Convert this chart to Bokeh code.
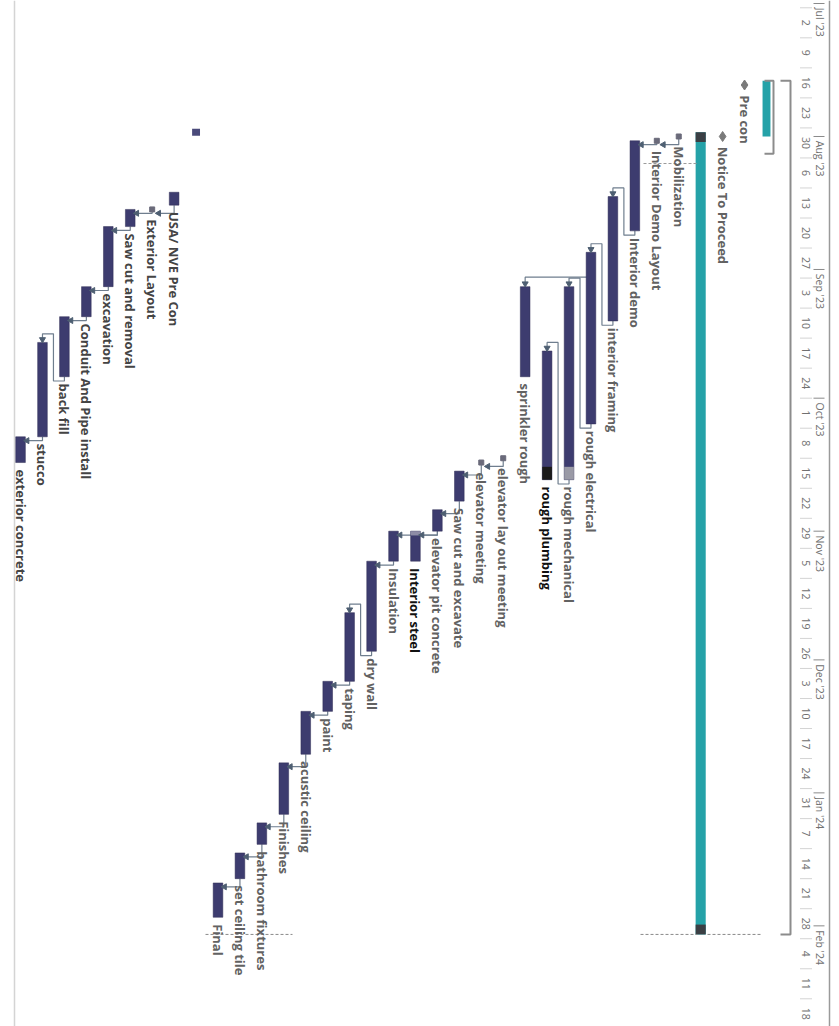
import math
from datetime import datetime, timedelta
from bokeh.plotting import figure
from bokeh.models import Range1d
from bokeh.core.properties import value
from bokeh.embed import file_html
from bokeh.resources import INLINE

# ---------------- data ----------------
bar_rows = [7, 8, 9, 10, 11, 12, 15, 16, 17, 18, 19, 20, 21, 22, 23, 24, 25, 26,
            28, 30, 31, 32, 33, 34, 35]
bar_names = ["Interior demo", "interior framing", "rough electrical", "rough mechanical",
             "rough plumbing", "sprinkler rough", "Saw cut and excavate", "elevator pit concrete",
             "Interior steel", "Insulation", "dry wall", "taping", "paint", "acustic ceiling",
             "Finishes", "bathroom fixtures", "set ceiling tile", "Final",
             "USA/ NVE Pre Con", "Saw cut and removal", "excavation", "Conduit And Pipe install",
             "back fill", "stucco", "exterior concrete"]
bar_starts = ["2023-08-02", "2023-08-15", "2023-08-28", "2023-09-05", "2023-09-20", "2023-09-05",
              "2023-10-18", "2023-10-27", "2023-11-01", "2023-11-01", "2023-11-08", "2023-11-20",
              "2023-12-06", "2023-12-13", "2023-12-25", "2024-01-08", "2024-01-15", "2024-01-22",
              "2023-08-14", "2023-08-18", "2023-08-22", "2023-09-05", "2023-09-12", "2023-09-18",
              "2023-10-10"]
bar_finishes = ["2023-08-23", "2023-09-13", "2023-10-07", "2023-10-20", "2023-10-20", "2023-09-26",
                "2023-10-25", "2023-11-01", "2023-11-08", "2023-11-08", "2023-11-29", "2023-12-06",
                "2023-12-13", "2023-12-23", "2024-01-06", "2024-01-13", "2024-01-21", "2024-01-30",
                "2023-08-17", "2023-08-22", "2023-09-05", "2023-09-12", "2023-09-26", "2023-10-10",
                "2023-10-16"]

# last part of some bars drawn in another shade
tail_rows = [10, 11]
tail_starts = ["2023-10-17", "2023-10-17"]
head_rows = [17]
head_finishes = ["2023-11-02"]

milestone_rows = [2, 3]
milestone_names = ["Pre con", "Notice To Proceed"]
milestone_dates = ["2023-07-20", "2023-08-01"]

marker_rows = [5, 6, 13, 14, 29]
marker_names = ["Mobilization", "Interior Demo Layout", "elevator lay out meeting",
                "elevator meeting", "Exterior Layout"]
marker_dates = ["2023-08-01", "2023-08-02", "2023-10-15", "2023-10-16", "2023-08-18"]

summary_rows = [1, 4]
summary_starts = ["2023-07-19", "2023-07-31"]
summary_finishes = ["2023-08-01", "2024-02-03"]

project_row = 0
project_start = "2023-07-19"
project_finish = "2024-02-03"
precon_bracket_start = "2023-07-19"
precon_bracket_finish = "2023-08-05"
blank_row = 27
blank_row_date = "2023-07-31"

links_fs = [(5, 6), (6, 7), (7, 8), (8, 9), (9, 10), (10, 11), (13, 14), (14, 15), (15, 16),
            (16, 17), (16, 18), (18, 19), (19, 20), (20, 21), (21, 22), (22, 23), (23, 24),
            (24, 25), (25, 26), (28, 29), (29, 30), (30, 31), (31, 32), (32, 33), (33, 34),
            (34, 35)]
links_ss = [(9, 12)]

month_labels = ["Jul '23", "Aug '23", "Sep '23", "Oct '23", "Nov '23", "Dec '23", "Jan '24", "Feb '24"]
month_starts = ["2023-07-01", "2023-08-01", "2023-09-01", "2023-10-01", "2023-11-01",
                "2023-12-01", "2024-01-01", "2024-02-01"]
week_labels = ["2", "9", "16", "23", "30", "6", "13", "20", "27", "3", "10", "17", "24",
               "1", "8", "15", "22", "29", "5", "12", "19", "26", "3", "10", "17", "24", "31",
               "7", "14", "21", "28", "4", "11", "18"]
week_starts = ["2023-07-02", "2023-07-09", "2023-07-16", "2023-07-23", "2023-07-30",
               "2023-08-06", "2023-08-13", "2023-08-20", "2023-08-27", "2023-09-03",
               "2023-09-10", "2023-09-17", "2023-09-24", "2023-10-01", "2023-10-08",
               "2023-10-15", "2023-10-22", "2023-10-29", "2023-11-05", "2023-11-12",
               "2023-11-19", "2023-11-26", "2023-12-03", "2023-12-10", "2023-12-17",
               "2023-12-24", "2023-12-31", "2024-01-07", "2024-01-14", "2024-01-21",
               "2024-01-28", "2024-02-04", "2024-02-11", "2024-02-18"]

# ---------------- helpers ----------------
def D(s):
    return datetime.fromisoformat(s)

day = timedelta(days=1)
ROW0_PX, ROW_PX = 766.0, 21.94


def col(px):
    # pixel column -> row coordinate
    return 1 + (ROW0_PX - px) / ROW_PX


origin = datetime(2023, 7, 1)
top_dt = origin - timedelta(days=0.7)
bot_dt = origin + timedelta(days=238.46)

p = figure(width=839, height=1026, output_backend="svg", toolbar_location=None,
           x_range=Range1d(col(0), col(839)), y_range=Range1d(bot_dt, top_dt),
           x_axis_location=None, y_axis_location=None, min_border=0)
p.grid.visible = False
p.outline_line_color = None
p.background_fill_color = "white"
p.border_fill_color = "white"

FONT = value("Open Sans")
NAVY = "#3d3c6f"
TEAL = "#25a2a8"
LINK = "#6f7e8e"
ARROW = "#4e5f72"

# page edge line on the left
p.segment(x0=[col(14)], y0=[top_dt], x1=[col(14)], y1=[bot_dt], line_color="#d4d4d4", line_width=1.5)

# ---------------- timescale header ----------------
p.segment(x0=[col(829)], y0=[top_dt], x1=[col(829)], y1=[bot_dt], line_color="#9a9a9a", line_width=1.5)
ws = [D(s) for s in week_starts]
p.segment(x0=[col(800)] * len(ws), y0=ws, x1=[col(811)] * len(ws), y1=ws,
          line_color="#a8a8a8", line_width=1, line_dash="1 1")
p.text(x=[col(805)] * len(ws), y=[w + 3.5 * day for w in ws], text=week_labels,
       angle=-math.pi / 2, text_align="center", text_baseline="middle",
       text_font=FONT, text_font_size="10.5px", text_color="#707070")
ms = [D(s) for s in month_starts]
p.segment(x0=[col(813)] * len(ms), y0=ms, x1=[col(824)] * len(ms), y1=ms,
          line_color="#8a8a8a", line_width=1)
p.text(x=[col(819)] * len(ms), y=[m + 1.0 * day for m in ms], text=month_labels,
       angle=-math.pi / 2, text_align="left", text_baseline="middle",
       text_font=FONT, text_font_size="10.5px", text_color="#707070")

# ---------------- project summary bracket (row 0) ----------------
ps, pf = D(project_start), D(project_finish)
bx = col(790)
p.multi_line(xs=[[col(780), bx, bx, col(780)]], ys=[[ps, ps, pf, pf]],
             line_color="#8c8c8c", line_width=2)

# ---------------- summary / teal bars ----------------
for r, s, f in zip(summary_rows, summary_starts, summary_finishes):
    w = 0.36 if r == 1 else 0.46
    p.vbar(x=[r], width=w, top=[D(s)], bottom=[D(f)], fill_color=TEAL, line_color=None)
# dark caps on the long bar (row 4)
r4s, r4f = D(summary_starts[1]), D(summary_finishes[1])
p.vbar(x=[4, 4], width=0.46, top=[r4s, r4f - 2.3 * day], bottom=[r4s + 2.3 * day, r4f],
       fill_color="#3b3f44", line_color=None)
# bracket next to the Pre con bar
bs, bf = D(precon_bracket_start), D(precon_bracket_finish)
p.multi_line(xs=[[col(764), col(773), col(773), col(764)]], ys=[[bs, bs, bf, bf]],
             line_color="#8c8c8c", line_width=2)

# dashed guide lines
d1 = origin + timedelta(days=37.3)
d2 = D(project_finish)
p.segment(x0=[col(643)], y0=[d1], x1=[col(697)], y1=[d1], line_color="#9a9a9a", line_dash="3 2")
p.segment(x0=[col(640), col(707), col(205)], y0=[d2, d2, d2],
          x1=[col(697), col(760), col(292)], y1=[d2, d2, d2],
          line_color="#8a8a8a", line_dash="3 2")

# ---------------- task lookup ----------------
starts, finishes = {}, {}
for r, s, f in zip(bar_rows, bar_starts, bar_finishes):
    starts[r], finishes[r] = D(s), D(f)
for r, d in zip(marker_rows, marker_dates):
    starts[r] = finishes[r] = D(d)
for r, d in zip(milestone_rows, milestone_dates):
    starts[r] = finishes[r] = D(d)

# ---------------- links ----------------
lxs, lys = [], []
al_x, al_y, ad_x, ad_y = [], [], [], []
for pr, sr in links_fs:
    pe, ss = finishes[pr], starts[sr]
    if ss >= pe - 0.3 * day:
        yh = max(pe, ss) + 0.9 * day
        lxs.append([pr, pr, sr - 0.3])
        lys.append([pe, yh, yh])
        al_x.append(sr - 0.3)
        al_y.append(yh)
    else:
        y1 = pe + 1.0 * day
        y2 = ss - 2.0 * day
        xm = pr + 0.5
        lxs.append([pr, pr, xm, xm, sr, sr])
        lys.append([pe, y1, y1, y2, y2, ss - 0.8 * day])
        ad_x.append(sr)
        ad_y.append(ss - 0.7 * day)
for pr, sr in links_ss:
    ss = starts[sr]
    y2 = ss - 2.2 * day
    lxs.append([pr, sr, sr])
    lys.append([y2, y2, ss - 0.8 * day])
    ad_x.append(sr)
    ad_y.append(ss - 0.7 * day)

p.multi_line(xs=lxs, ys=lys, line_color=LINK, line_width=1.2)

# ---------------- bars ----------------
p.vbar(x=bar_rows, width=0.44, top=[D(s) for s in bar_starts],
       bottom=[D(f) for f in bar_finishes], fill_color=NAVY, line_color="#2e2d55", line_width=0.5)
tail_cols = ["#9a9aa6", "#1a1a1a"]
for r, s, c in zip(tail_rows, tail_starts, tail_cols):
    p.vbar(x=[r], width=0.44, top=[D(s)], bottom=[finishes[r]], fill_color=c, line_color=None)
for r, f in zip(head_rows, head_finishes):
    p.vbar(x=[r], width=0.44, top=[starts[r]], bottom=[D(f)], fill_color="#8d8ca6", line_color=None)

# arrowheads
p.scatter(x=al_x, y=al_y, marker="triangle", angle=math.pi / 2, size=6,
          fill_color=ARROW, line_color=ARROW)
p.scatter(x=ad_x, y=ad_y, marker="inverted_triangle", size=6, fill_color=ARROW, line_color=ARROW)

# zero-length task markers
md = [D(d) for d in marker_dates]
p.scatter(x=marker_rows, y=md, marker="square", size=5, fill_color="#6a6a7a", line_color="#6a6a7a")
p.vbar(x=[blank_row], width=0.36, top=[D(blank_row_date) - 0.8 * day],
       bottom=[D(blank_row_date) + 0.8 * day], fill_color="#4a4a7a", line_color=None)

# milestones
p.scatter(x=milestone_rows, y=[D(d) for d in milestone_dates], marker="diamond", size=10,
          fill_color="#7a7a7a", line_color="#7a7a7a")

# ---------------- labels ----------------
dark = {"rough plumbing", "Interior steel"}
exterior = {"USA/ NVE Pre Con", "Saw cut and removal", "excavation", "Conduit And Pipe install",
            "back fill", "stucco", "exterior concrete", "Exterior Layout"}


def label_color(n):
    if n in dark:
        return "#111111"
    if n in exterior:
        return "#444444"
    return "#626262"


lab_x = list(bar_rows) + list(marker_rows) + list(milestone_rows)
lab_y = ([D(f) + 1.6 * day for f in bar_finishes] + [d + 2.3 * day for d in md]
         + [D(d) + 2.4 * day for d in milestone_dates])
lab_t = list(bar_names) + list(marker_names) + list(milestone_names)
p.text(x=lab_x, y=lab_y, text=lab_t, angle=-math.pi / 2, text_align="left",
       text_baseline="middle", text_font=FONT, text_font_style="bold", text_font_size="13px",
       text_color=[label_color(n) for n in lab_t])

open("out.html", "w").write(file_html(p, INLINE))
